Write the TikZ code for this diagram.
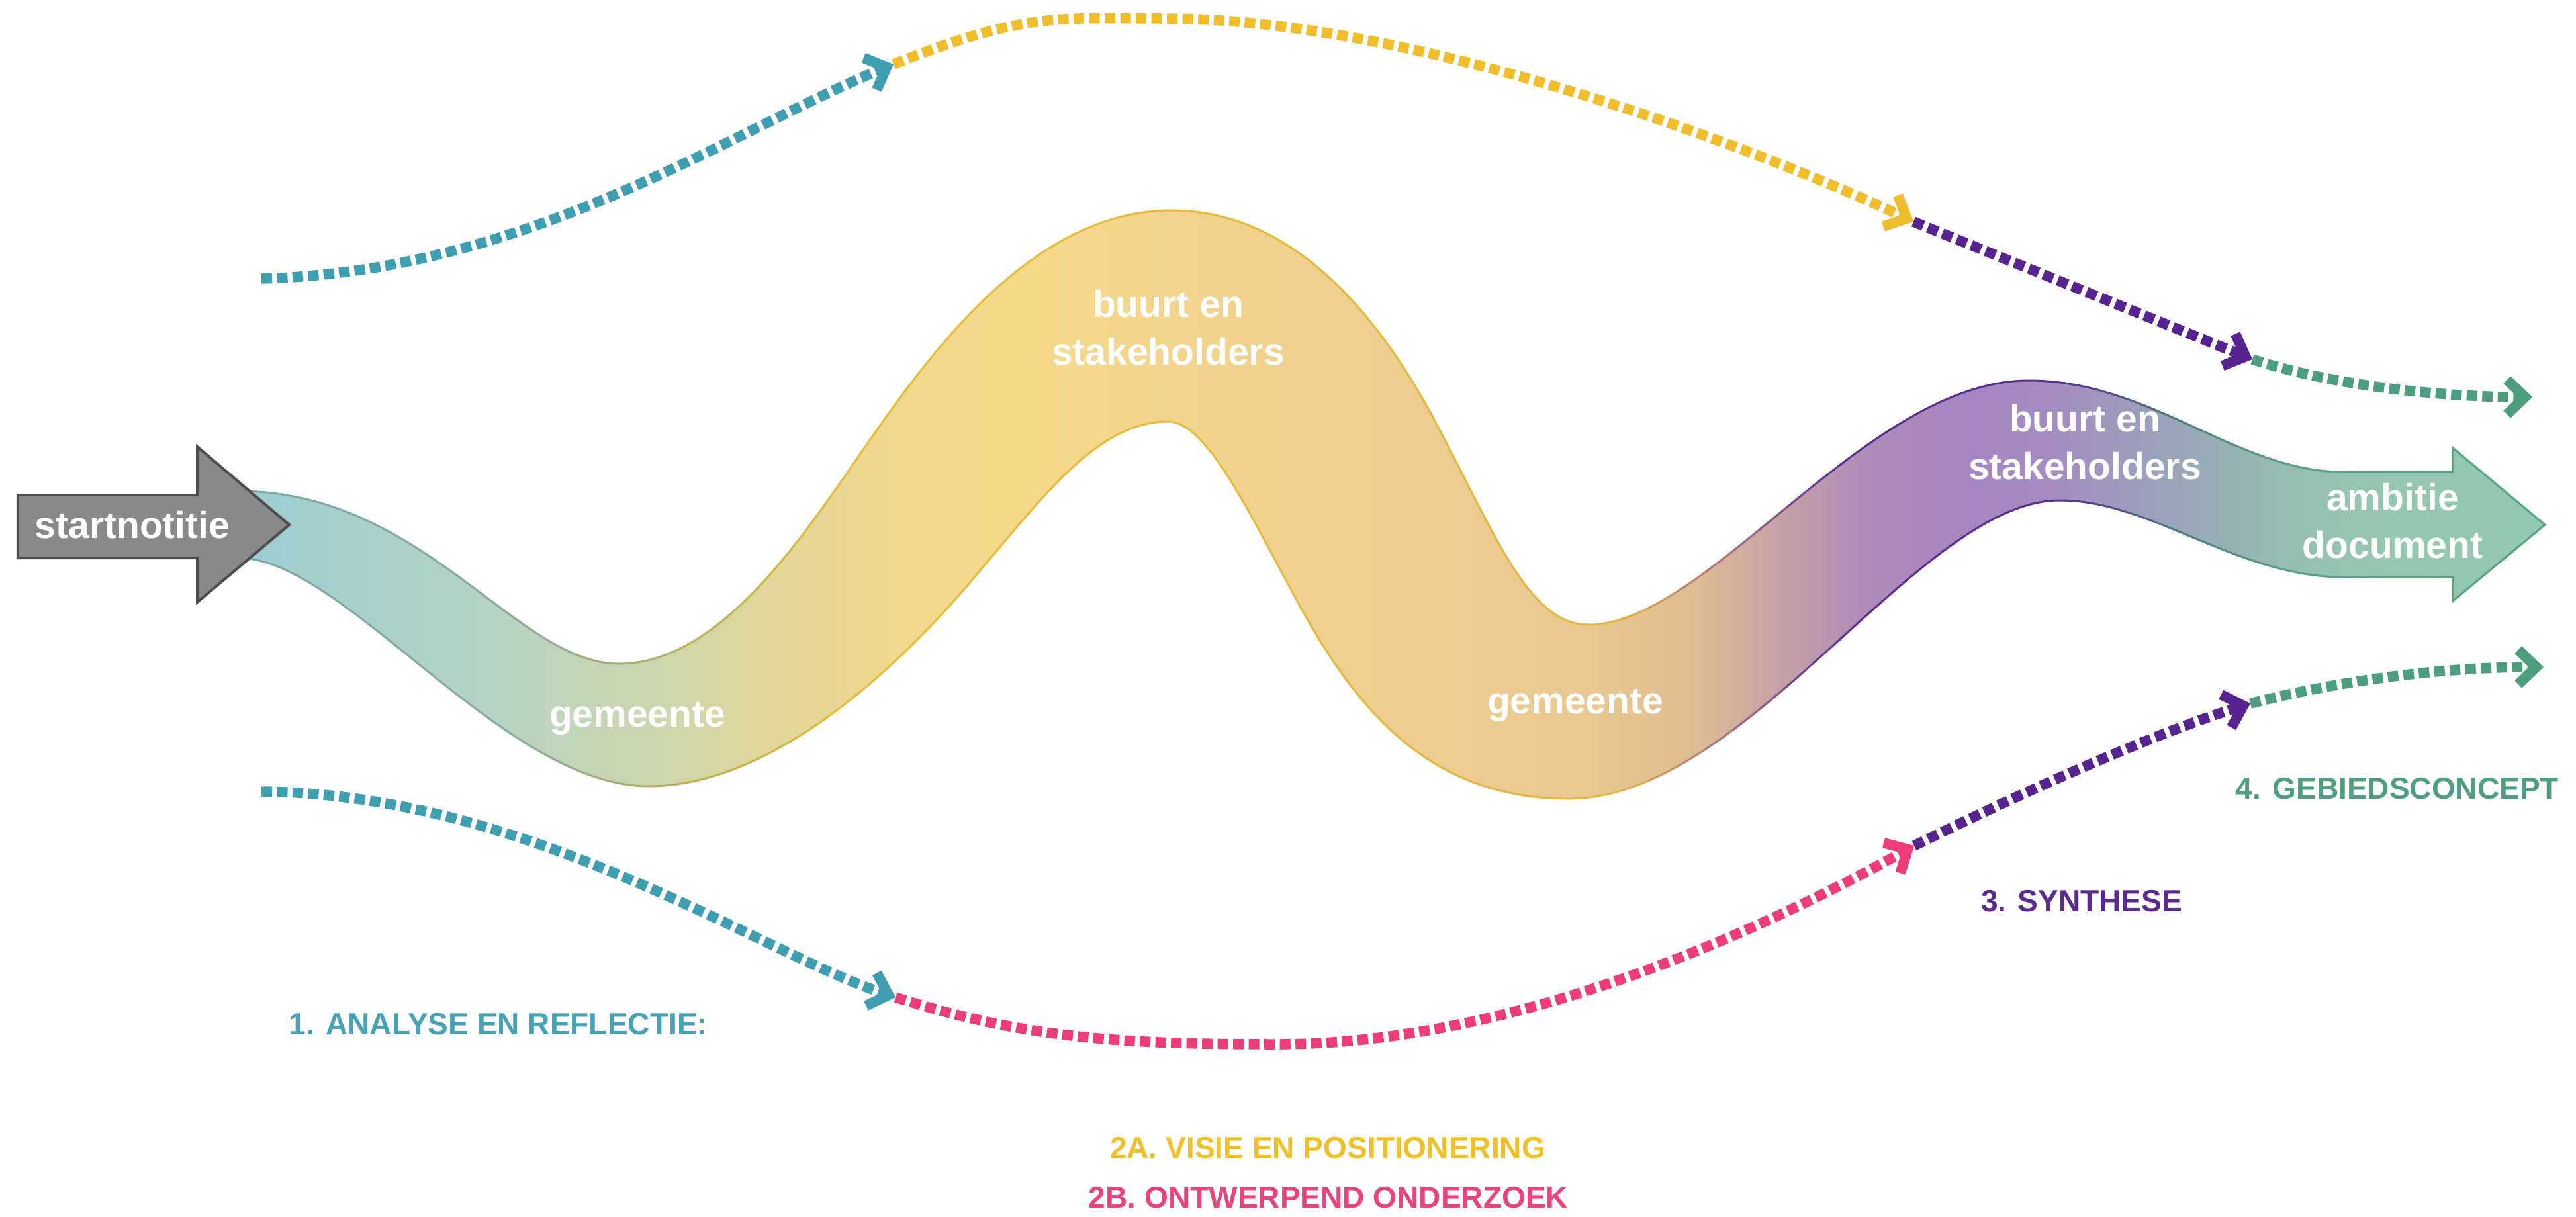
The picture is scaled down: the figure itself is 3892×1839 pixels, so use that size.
\documentclass[tikz,border=0pt]{standalone}
\usepackage{fontspec}
\setmainfont{Liberation Sans}
\usetikzlibrary{arrows.meta}
% fill colours of the band
\definecolor{b1}{HTML}{9CCDD2}
\definecolor{b2}{HTML}{B4D3C6}
\definecolor{b3}{HTML}{C9D6B0}
\definecolor{b4}{HTML}{DFD69A}
\definecolor{b5}{HTML}{F0D88C}
\definecolor{b6}{HTML}{F5D98A}
\definecolor{b7}{HTML}{EFD08E}
\definecolor{b8}{HTML}{E9C891}
\definecolor{b9}{HTML}{DFBD92}
\definecolor{b10}{HTML}{C7A3A5}
\definecolor{b11}{HTML}{AD8CB9}
\definecolor{b12}{HTML}{A586C2}
\definecolor{b13}{HTML}{A48EC0}
\definecolor{b14}{HTML}{9AA5B8}
\definecolor{b15}{HTML}{97B8B2}
\definecolor{b16}{HTML}{95C5B0}
\definecolor{b17}{HTML}{93C9B0}
% outline colours of the band
\definecolor{o1}{HTML}{6FA9B0}
\definecolor{o2}{HTML}{8AAB98}
\definecolor{o3}{HTML}{C3B34A}
\definecolor{o4}{HTML}{E6BD3A}
\definecolor{o5}{HTML}{E3B644}
\definecolor{o6}{HTML}{A26A8A}
\definecolor{o7}{HTML}{5C2E90}
\definecolor{o8}{HTML}{56308A}
\definecolor{o9}{HTML}{4F7F80}
\definecolor{o10}{HTML}{58A384}
% dotted line / label colours
\definecolor{cteal}{HTML}{3F9FB0}
\definecolor{cyellow}{HTML}{F0BD2D}
\definecolor{cpurple}{HTML}{57238F}
\definecolor{cgreen}{HTML}{4D9E7E}
\definecolor{cpink}{HTML}{EC3D7A}
\definecolor{lteal}{HTML}{46A2B4}
\definecolor{lyellow}{HTML}{EFC02A}
\definecolor{lpink}{HTML}{E8437C}
\definecolor{lpurple}{HTML}{5B2A8F}
\definecolor{lgreen}{HTML}{4F9E80}
\definecolor{startgray}{HTML}{898989}
\definecolor{startedge}{HTML}{4D4D4D}
\pgfdeclarehorizontalshading{bandshade}{100bp}{color(0bp)=(b1); color(25bp)=(b1); color(29.88bp)=(b2); color(33.72bp)=(b3); color(36.33bp)=(b4); color(39.20bp)=(b5); color(42.07bp)=(b6); color(48.53bp)=(b7); color(54.27bp)=(b8); color(56.56bp)=(b9); color(58.29bp)=(b10); color(60.29bp)=(b11); color(62.59bp)=(b12); color(64.60bp)=(b13); color(66.89bp)=(b14); color(68.90bp)=(b15); color(70.91bp)=(b16); color(75bp)=(b17); color(100bp)=(b17)}
\tikzset{
  dotline/.style={line width=0.155cm, dash pattern=on 0.16cm off 0.075cm, -{Straight Barb[length=0.27cm,width=0.52cm]}},
  lab/.style={font=\fontsize{13.1pt}{15pt}\selectfont\bfseries, anchor=base, inner sep=0pt},
  wtxt/.style={text=white, font=\fontsize{16.2pt}{20.5pt}\selectfont\bfseries, align=center, inner sep=0pt}
}
\begin{document}
\begin{tikzpicture}[x=0.01cm, y=-0.01cm]
\useasboundingbox (0,0) rectangle (3892,1839);
\fill[white] (0,0) rectangle (3892,1839);

% main band
\shade[shading=bandshade, save path=\bandpath]
  (360,742) .. controls (640,742) and (780,1003) .. (935,1003)
  .. controls (1080,1003) and (1200,830) .. (1290,700)
  .. controls (1390,555) and (1550,318) .. (1770,318)
  .. controls (1950,318) and (2080,470) .. (2170,640)
  .. controls (2260,810) and (2310,944) .. (2400,944)
  .. controls (2580,944) and (2820,575) .. (3065,575)
  .. controls (3250,575) and (3380,713) .. (3540,713)
  -- (3706,713) -- (3706,677) -- (3845,793) -- (3706,908) -- (3706,872) -- (3540,872)
  .. controls (3380,872) and (3250,756) .. (3112,756)
  .. controls (2900,756) and (2640,1207) .. (2370,1207)
  .. controls (2150,1207) and (2040,1060) .. (1950,890)
  .. controls (1880,760) and (1820,637) .. (1765,637)
  .. controls (1660,637) and (1580,745) .. (1470,875)
  .. controls (1330,1040) and (1150,1188) .. (980,1188)
  .. controls (760,1188) and (520,843) .. (360,843)
  -- cycle;

% band outline, coloured strip by strip
\foreach \xa/\xb/\ca/\cb in {0/800/o1/o2, 800/1100/o2/o3, 1100/1300/o3/o4, 1300/2450/o4/o5, 2450/2620/o5/o6, 2620/2780/o6/o7, 2780/3120/o7/o8, 3120/3300/o8/o9, 3300/3460/o9/o10, 3460/3892/o10/o10}{
  \foreach \k in {0,1,2,3}{
    \pgfmathsetmacro\xl{\xa+(\xb-\xa)*\k/4}
    \pgfmathsetmacro\xr{\xa+(\xb-\xa)*(\k+1)/4}
    \pgfmathsetmacro\pc{87.5-25*\k}
    \begin{scope}
      \clip (\xl-1,-10) rectangle (\xr+1,1900);
      \draw[line width=0.03cm, draw=\ca!\pc!\cb, use path=\bandpath];
    \end{scope}
  }
}

% startnotitie arrow
\draw[fill=startgray, draw=startedge, line width=0.04cm, line join=miter]
  (27,748) -- (298,748) -- (298,675) -- (437,793) -- (298,910) -- (298,843) -- (27,843) -- cycle;
\node[wtxt, anchor=base] (start) at (200,813) {startnotitie};

% texts in the band
\node[wtxt, anchor=base] (gem1) at (963,1098) {gemeente};
\node[wtxt] (buurt1) at (1765,495) {buurt en\\stakeholders};
\node[wtxt, anchor=base] (gem2) at (2380,1078) {gemeente};
\node[wtxt] (buurt2) at (3150,668) {buurt en\\stakeholders};
\node[wtxt] (ambitie) at (3615,787) {ambitie\\document};

% connector points
\coordinate (u0) at (395,421);
\coordinate (u1) at (1350,97);
\coordinate (u2) at (2891,335);
\coordinate (u3) at (3403,543);
\coordinate (u4) at (3826,600);
\coordinate (um) at (1760,28);
\coordinate (l0) at (395,1196);
\coordinate (l1) at (1353,1507);
\coordinate (lm) at (1930,1578);
\coordinate (l2) at (2892,1278);
\coordinate (l3) at (3400,1063);
\coordinate (l4) at (3843,1008);

% upper dotted route
\draw[dotline, cteal] (u0) .. controls (800,410) and (1100,200) .. (u1);
\draw[dotline, cyellow] (u1) .. controls (1550,17) and (1600,28) .. (um) .. controls (2150,28) and (2680,235) .. (u2);
\draw[dotline, cpurple] (u2) -- (u3);
\draw[dotline, cgreen] (u3) .. controls (3530,585) and (3700,600) .. (u4);

% lower dotted route
\draw[dotline, cteal] (l0) .. controls (800,1200) and (1150,1440) .. (l1);
\draw[dotline, cpink] (l1) .. controls (1550,1570) and (1700,1578) .. (lm) .. controls (2250,1578) and (2600,1440) .. (l2);
\draw[dotline, cpurple] (l2) .. controls (3050,1200) and (3250,1110) .. (l3);
\draw[dotline, cgreen] (l3) .. controls (3550,1025) and (3700,1008) .. (l4);

% phase labels
\node[lab, lteal] (p1) at (753,1563) {1. ANALYSE EN REFLECTIE:};
\node[lab, lyellow] (p2a) at (2006,1750) {2A. VISIE EN POSITIONERING};
\node[lab, lpink] (p2b) at (2007,1825) {2B. ONTWERPEND ONDERZOEK};
\node[lab, lpurple] (p3) at (3145,1377) {3. SYNTHESE};
\node[lab, lgreen] (p4) at (3622,1207) {4. GEBIEDSCONCEPT};
\end{tikzpicture}
\end{document}
